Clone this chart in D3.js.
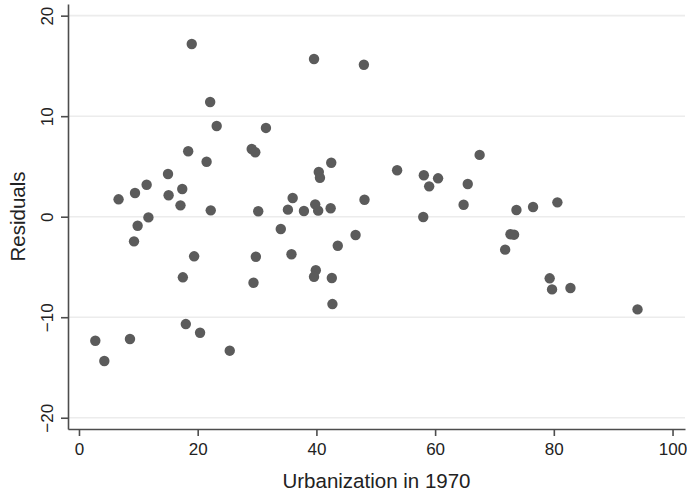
<!DOCTYPE html>
<html>
<head>
<meta charset="utf-8">
<title>Residuals vs urbanization</title>
<script src="https://d3js.org/d3.v7.min.js"></script>
<style>
  body { margin: 0; background: #fff; }
  svg { display: block; font-family: "Liberation Sans", Arial, Helvetica, sans-serif; }
  .axis path, .axis line { stroke: #4d4d4d; stroke-width: 1.6; }
  .axis text { fill: #222; font-size: 17px; }
  .grid line { stroke: #ececec; stroke-width: 1.6; }
</style>
</head>
<body>
<div id="chart"></div>
<script>
// urbanization in 1970 (x) and residuals (y)
const urban = [
  2.75, 4.27, 8.59, 6.67, 9.44, 11.4, 15.0, 15.1, 17.4, 17.1,
  18.4, 23.2, 21.5, 22.2, 11.7, 9.88, 9.27, 19.4, 17.5, 19.0,
  22.1, 18.0, 20.4, 25.4, 31.5, 29.1, 29.7, 30.2, 29.8, 29.4,
  34.0, 35.2, 36.0, 35.8, 37.9, 39.8, 40.3, 40.4, 40.6, 42.5,
  42.4, 39.9, 39.6, 42.6, 42.7, 43.6, 46.6, 48.1, 53.6, 58.1,
  59.0, 60.5, 58.0, 39.6, 48.0, 67.5, 65.5, 64.8, 73.7, 76.5,
  80.6, 72.7, 73.3, 71.8, 79.3, 79.7, 82.8, 94.1
];
const resid = [
  -12.34, -14.36, -12.17, 1.73, 2.36, 3.18, 4.25, 2.13, 2.76, 1.13,
  6.51, 9.02, 5.47, 0.63, -0.07, -0.90, -2.45, -3.94, -6.03, 17.18,
  11.41, -10.68, -11.54, -13.33, 8.83, 6.74, 6.41, 0.54, -3.98, -6.57,
  -1.22, 0.70, 1.86, -3.74, 0.57, 1.23, 0.60, 4.45, 3.88, 5.37,
  0.84, -5.33, -5.97, -6.10, -8.69, -2.89, -1.82, 1.69, 4.62, 4.12,
  3.02, 3.82, -0.03, 15.69, 15.12, 6.15, 3.25, 1.19, 0.67, 0.97,
  1.43, -1.75, -1.79, -3.28, -6.13, -7.23, -7.09, -9.22
];
const xTicks = [0, 20, 40, 60, 80, 100];
const yTicks = [-20, -10, 0, 10, 20];
const xTitle = "Urbanization in 1970";
const yTitle = "Residuals";

const w = 687, h = 494;
const margin = {top: 4, right: 2, bottom: 65, left: 68};

const svg = d3.select("#chart").append("svg")
  .attr("width", w)
  .attr("height", h);

const xScale = d3.scaleLinear()
  .domain([-1.85, 102.1])
  .range([margin.left, w - margin.right]);

const yScale = d3.scaleLinear()
  .domain([-21.12, 21.16])
  .range([h - margin.bottom, margin.top]);

//grid
svg.append("g")
  .attr("class", "grid")
  .selectAll("line")
  .data(yTicks)
  .enter()
  .append("line")
  .attr("x1", margin.left)
  .attr("x2", w - margin.right)
  .attr("y1", d => yScale(d))
  .attr("y2", d => yScale(d));

//points
const pts = urban.map((u, i) => ({x: u, y: resid[i]}));
svg.append("g")
  .selectAll("circle")
  .data(pts)
  .enter()
  .append("circle")
  .attr("cx", d => xScale(d.x))
  .attr("cy", d => yScale(d.y))
  .attr("r", 5.2)
  .style("fill", "#5b5b5b");

//x axis
const xAxis = d3.axisBottom(xScale)
  .tickValues(xTicks)
  .tickSize(7)
  .tickSizeOuter(0)
  .tickPadding(7)
  .tickFormat(d3.format("d"));
svg.append("g")
  .attr("class", "axis")
  .attr("transform", "translate(0," + (h - margin.bottom) + ")")
  .call(xAxis);

//y axis, labels rotated like stata
const yAxis = d3.axisLeft(yScale)
  .tickValues(yTicks)
  .tickSize(7)
  .tickSizeOuter(0)
  .tickFormat(d => d < 0 ? "\u2212" + Math.abs(d) : d);
const gy = svg.append("g")
  .attr("class", "axis")
  .attr("transform", "translate(" + margin.left + ",0)")
  .call(yAxis);
gy.selectAll(".tick text")
  .attr("x", 0)
  .attr("dy", 0)
  .attr("text-anchor", "middle")
  .attr("transform", "translate(-15,0) rotate(-90)");

//titles
svg.append("text")
  .attr("x", (margin.left + w - margin.right) / 2)
  .attr("y", 488)
  .attr("text-anchor", "middle")
  .style("font-size", "20.5px")
  .style("fill", "#222")
  .text(xTitle);

svg.append("text")
  .attr("transform", "translate(25," + ((margin.top + h - margin.bottom) / 2) + ") rotate(-90)")
  .attr("text-anchor", "middle")
  .style("font-size", "20.5px")
  .style("fill", "#222")
  .text(yTitle);
</script>
</body>
</html>
